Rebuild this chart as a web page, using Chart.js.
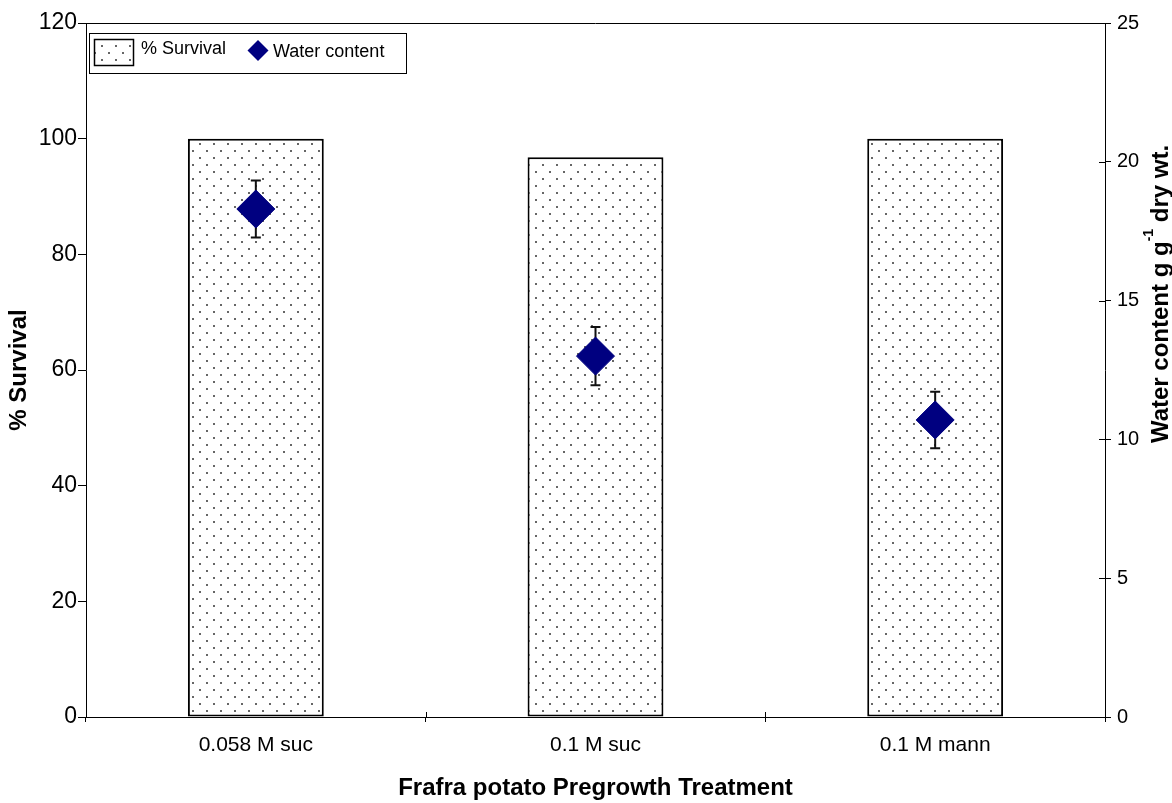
<!DOCTYPE html>
<html>
<head>
<meta charset="utf-8">
<script src="https://cdn.jsdelivr.net/npm/chart.js@4.4.0/dist/chart.umd.min.js"></script>
<style>
  html, body { margin: 0; padding: 0; background: #fff; }
  #wrap { width: 1172px; height: 803px; position: relative; }
</style>
</head>
<body>
<div id="wrap"><canvas id="myChart"></canvas></div>
<script>
// data
const treatments = ['0.058 M suc', '0.1 M suc', '0.1 M mann'];
const survival = [100, 96.8, 100];
const waterContent = [18.3, 13.0, 10.7];
const waterError = [1.03, 1.05, 1.02];
const survivalTicks = [0, 20, 40, 60, 80, 100, 120];
const waterTicks = [0, 5, 10, 15, 20, 25];

const FONT = 'Arial, "Liberation Sans", sans-serif';
Chart.defaults.font.family = FONT;
Chart.defaults.color = '#000';

const canvas = document.getElementById('myChart');
const ctx = canvas.getContext('2d');

// dotted fill like the old excel pattern
function dotPattern() {
  const c = document.createElement('canvas');
  c.width = 14; c.height = 14;
  const g = c.getContext('2d');
  g.fillStyle = '#fff';
  g.fillRect(0, 0, 14, 14);
  g.fillStyle = '#666';
  g.fillRect(3, 3, 2, 2);
  g.fillRect(10, 10, 2, 2);
  return ctx.createPattern(c, 'repeat');
}
const dots = dotPattern();

// error bars under the diamonds
const errorBars = {
  id: 'errorBars',
  afterDatasetDraw(chart, args) {
    if (args.index !== 0) return;
    const c = chart.ctx;
    const y1 = chart.scales.y1;
    const meta = chart.getDatasetMeta(1);
    c.save();
    c.strokeStyle = '#111';
    c.lineWidth = 2;
    meta.data.forEach((pt, i) => {
      const top = y1.getPixelForValue(waterContent[i] + waterError[i]);
      const bot = y1.getPixelForValue(waterContent[i] - waterError[i]);
      c.beginPath();
      c.moveTo(pt.x, top); c.lineTo(pt.x, bot);
      c.moveTo(pt.x - 5, top); c.lineTo(pt.x + 5, top);
      c.moveTo(pt.x - 5, bot); c.lineTo(pt.x + 5, bot);
      c.stroke();
    });
    c.restore();
  }
};

// frame, crossing ticks, legend box and right title
const extras = {
  id: 'extras',
  afterDraw(chart) {
    const c = chart.ctx;
    const a = chart.chartArea;
    c.save();
    c.strokeStyle = '#000';
    c.lineWidth = 1;
    c.beginPath();
    c.moveTo(a.left, a.top + 0.5); c.lineTo(a.right, a.top + 0.5);
    // inner half of the right axis ticks
    chart.scales.y1.ticks.forEach(t => {
      const y = Math.round(chart.scales.y1.getPixelForValue(t.value)) + 0.5;
      c.moveTo(a.right - 6, y); c.lineTo(a.right, y);
    });
    // inner half of the category ticks
    const step = (a.right - a.left) / treatments.length;
    for (let k = 1; k < treatments.length; k++) {
      const x = Math.round(a.left + step * k) + 0.5;
      c.moveTo(x, a.bottom - 5); c.lineTo(x, a.bottom);
    }
    c.stroke();

    // legend
    c.fillStyle = '#fff';
    c.fillRect(89, 33, 317, 40);
    c.strokeRect(89.5, 33.5, 317, 40);
    c.fillStyle = dots;
    c.fillRect(94, 39, 39, 26);
    c.lineWidth = 1.5;
    c.strokeRect(94.5, 39.5, 39, 26);
    c.fillStyle = '#000';
    c.font = '18px ' + FONT;
    c.textBaseline = 'alphabetic';
    c.textAlign = 'left';
    c.fillText('% Survival', 141, 54);
    c.fillText('Water content', 273, 57);
    c.fillStyle = '#000080';
    c.beginPath();
    c.moveTo(258, 40); c.lineTo(268.5, 50.5); c.lineTo(258, 61); c.lineTo(247.5, 50.5);
    c.closePath();
    c.fill();

    // right axis title with superscript
    c.translate(1168, 294);
    c.rotate(-Math.PI / 2);
    const big = 'bold 24px ' + FONT;
    const small = 'bold 14px ' + FONT;
    const parts = [['Water content g g', big, 0], ['-1', small, -15], [' dry wt.', big, 0]];
    let total = 0;
    parts.forEach(p => { c.font = p[1]; total += c.measureText(p[0]).width; });
    let x = -total / 2;
    c.fillStyle = '#000';
    parts.forEach(p => {
      c.font = p[1];
      c.fillText(p[0], x, p[2]);
      x += c.measureText(p[0]).width;
    });
    c.restore();
  }
};

new Chart(ctx, {
  type: 'bar',
  data: {
    labels: treatments,
    datasets: [{
      label: '% Survival',
      data: survival,
      backgroundColor: dots,
      borderColor: '#000',
      borderWidth: 2,
      borderSkipped: false,
      barPercentage: 0.4,
      categoryPercentage: 1,
      yAxisID: 'y',
      order: 1
    }, {
      type: 'line',
      label: 'Water content',
      data: waterContent,
      showLine: false,
      pointStyle: 'rectRot',
      pointRadius: 19,
      pointHoverRadius: 19,
      backgroundColor: '#000080',
      borderColor: '#000080',
      borderWidth: 1,
      yAxisID: 'y1',
      order: 0
    }]
  },
  options: {
    responsive: true,
    maintainAspectRatio: false,
    animation: false,
    layout: { padding: { top: 23, left: 0, right: 0, bottom: 0 } },
    plugins: {
      legend: { display: false },
      tooltip: { enabled: false }
    },
    scales: {
      x: {
        grid: { drawOnChartArea: false, offset: true, tickLength: 5, color: '#000' },
        border: { color: '#000', width: 1 },
        ticks: { font: { size: 21 }, padding: 11, color: '#000' },
        title: {
          display: true,
          text: 'Frafra potato Pregrowth Treatment',
          font: { size: 24, weight: 'bold' },
          padding: { top: 0, bottom: 0 }
        },
        afterFit: s => { s.height = 86; }
      },
      y: {
        position: 'left',
        min: 0, max: 120,
        afterBuildTicks: s => { s.ticks = survivalTicks.map(v => ({ value: v })); },
        grid: { drawOnChartArea: false, tickLength: 8, color: '#000' },
        border: { color: '#000', width: 1 },
        ticks: { font: { size: 23 }, padding: 1, color: '#000' },
        title: {
          display: true,
          text: '% Survival',
          font: { size: 24, weight: 'bold' },
          padding: { top: 5, bottom: 0 }
        },
        afterFit: s => { s.width = 86; }
      },
      y1: {
        position: 'right',
        min: 0, max: 25,
        afterBuildTicks: s => { s.ticks = waterTicks.map(v => ({ value: v })); },
        grid: { drawOnChartArea: false, tickLength: 6, color: '#000' },
        border: { color: '#000', width: 1 },
        ticks: { font: { size: 20 }, padding: 6, color: '#000' },
        afterFit: s => { s.width = 67; }
      }
    }
  },
  plugins: [errorBars, extras]
});
</script>
</body>
</html>
